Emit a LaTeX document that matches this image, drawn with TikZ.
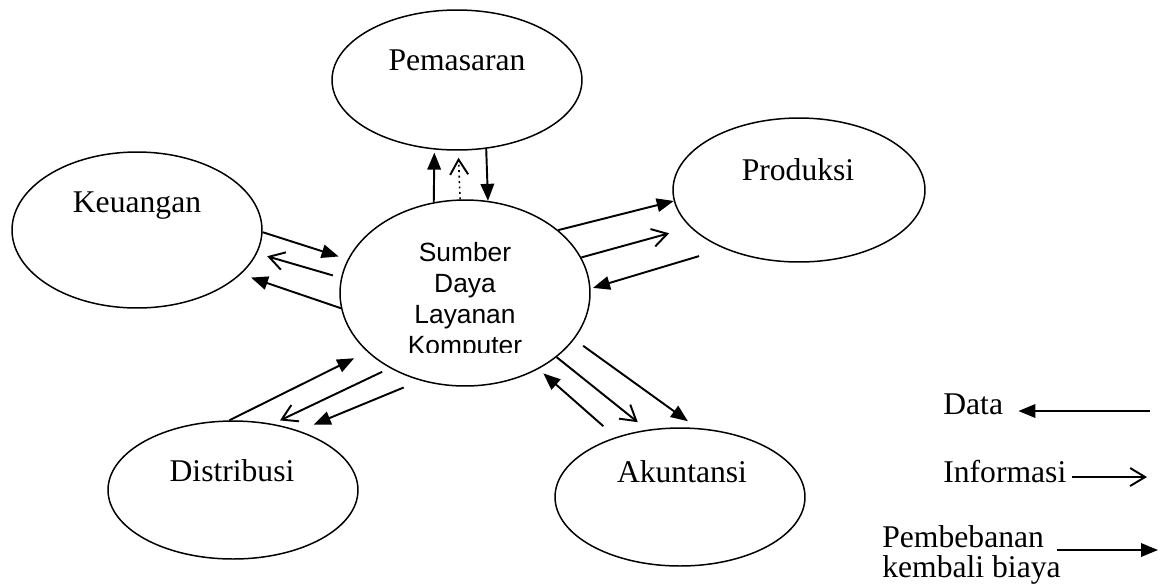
\documentclass[tikz,border=0pt]{standalone}
\usepackage{fontspec}
\setmainfont{Liberation Serif}
\newfontfamily\arialfont{Liberation Sans}
\usetikzlibrary{shapes.geometric,arrows.meta}

\tikzset{
  unit/.style={ellipse,draw,line width=0.85pt,minimum width=5cm,inner sep=0pt},
  data/.style={line width=1.1pt,-{Triangle[length=0.34cm,width=0.27cm]}},
  info/.style={line width=1.1pt,-{Straight Barb[length=0.3cm,width=0.36cm,line width=1.1pt]}},
  lbl/.style={font=\fontsize{18}{22}\selectfont,inner sep=0pt,anchor=base}
}

\begin{document}
\begin{tikzpicture}[x=0.02cm,y=-0.02cm]
\useasboundingbox (0,0) rectangle (1165,586);

% units
\node[unit,minimum height=2.8cm] (pem) at (457,80) {};
\node[unit,minimum height=3.12cm] (keu) at (137,230) {};
\node[unit,minimum width=5.04cm,minimum height=2.88cm] (pro) at (799,190) {};
\node[unit,minimum height=3.72cm] (sdl) at (465,293) {};
\node[unit,minimum height=2.76cm] (dis) at (233,490) {};
\node[unit,minimum height=2.76cm] (aku) at (680,497) {};

\node[lbl] (pemtxt) at (457,70) {Pemasaran};
\node[lbl] (keutxt) at (137,212) {Keuangan};
\node[lbl] (protxt) at (798,180) {Produksi};
\node[lbl] (distxt) at (232,481) {Distribusi};
\node[lbl] (akutxt) at (682,482) {Akuntansi};

\begin{scope}
  \clip (340,200) rectangle (590,352);
  \node[font=\arialfont\fontsize{15}{17.6}\selectfont,align=center,anchor=north,inner sep=0pt] (sdltxt) at (465,242) {Sumber\\Daya\\Layanan\\Komputer};
\end{scope}

% pemasaran
\draw[data,shorten >=0.06cm] (sdl.109) -- (pem.252.3);
\draw[info,dotted,line width=0.9pt,shorten >=0.14cm] (sdl.93.7) -- (pem.271.5);
\draw[data] (pem.293.2) -- (sdl.76.3);

% keuangan
\draw[data,shorten >=0.19cm] (keu.-1) -- (sdl.164.1);
\draw[info,shorten <=0.17cm,shorten >=0.21cm] (sdl.173.8) -- (keu.-11.4);
\draw[data,shorten >=0.21cm] (sdl.-173) -- (keu.-23);

% produksi
\draw[data] (sdl.34.1) -- (pro.185.9);
\draw[info,shorten >=0.44cm] (sdl.17.1) -- (pro.199);
\draw[data,shorten <=0.52cm,shorten >=0.05cm] (pro.218.8) -- (sdl.2);

% distribusi
\draw[data,shorten >=0.29cm] (dis.93.4) -- (sdl.211);
\draw[info,shorten <=0.17cm,shorten >=0.16cm] (sdl.225.8) -- (dis.59.4);
\draw[data,shorten <=0.36cm,shorten >=0.32cm] (sdl.243.5) -- (dis.42.1);

% akuntansi
\draw[data,shorten <=0.33cm,shorten >=0.13cm] (aku.137.1) -- (sdl.-46.4);
\draw[info,shorten >=0.24cm] (sdl.-35.5) -- (aku.116.1);
\draw[data,shorten <=0.22cm,shorten >=0.23cm] (sdl.-23.3) -- (aku.76.8);

% legend
\node[lbl,anchor=base west] (datatxt) at (943,414) {Data};
\coordinate (dataend) at (1150,411);
\draw[data,shorten >=0.3cm] (dataend) -- (dataend -| datatxt.east);

\node[lbl,anchor=base west] (infotxt) at (943,482) {Informasi};
\coordinate (infoend) at (1147,477);
\draw[info,shorten <=0.1cm] (infoend -| infotxt.east) -- (infoend);

\node[lbl,anchor=base west] (costtxt) at (882,547) {Pembebanan};
\node[lbl,anchor=base west] (costtxtb) at (882,577) {kembali biaya};
\coordinate (coststart) at (1057,550);
\coordinate (costend) at (1158,550);
\draw[data] (coststart) -- (costend);

\end{tikzpicture}
\end{document}
